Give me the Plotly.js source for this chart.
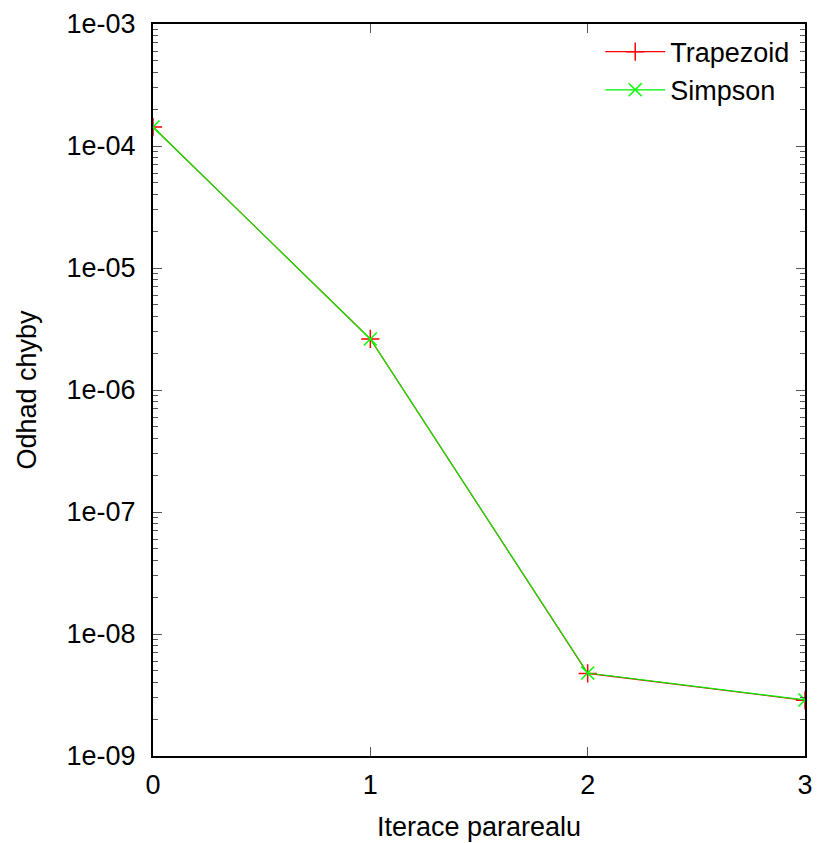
<!DOCTYPE html>
<html>
<head>
<meta charset="utf-8">
<script src="https://cdn.plot.ly/plotly-3.0.1.min.js"></script>
<style>
  html, body { margin: 0; padding: 0; background: #fff; }
  #chart { width: 818px; height: 843px; }
</style>
</head>
<body>
<div id="chart"></div>
<script>
// Data
var iterations = [0, 1, 2, 3];
var trapezoid = [1.43e-4, 2.62e-6, 4.75e-9, 2.86e-9];
var simpson   = [1.43e-4, 2.62e-6, 4.79e-9, 2.88e-9];
var seriesNames = ['Trapezoid', 'Simpson'];
var yTickVals = [1e-9, 1e-8, 1e-7, 1e-6, 1e-5, 1e-4, 1e-3];
var yTickText = ['1e-09', '1e-08', '1e-07', '1e-06', '1e-05', '1e-04', '1e-03'];
var xTickVals = [0, 1, 2, 3];
var xTickText = ['0', '1', '2', '3'];

var minorVals = [];
for (var e = -9; e < -3; e++) {
  for (var m = 2; m <= 9; m++) minorVals.push(m * Math.pow(10, e));
}

var font = {family: '"Liberation Sans", Arial, sans-serif', size: 27, color: '#000'};

var traces = [
  {
    x: iterations, y: trapezoid, name: seriesNames[0], type: 'scatter', mode: 'lines+markers',
    line: {color: '#ff0000', width: 1.2},
    marker: {symbol: 'cross-thin', size: 13, line: {color: '#ff0000', width: 1.5}}
  },
  {
    x: iterations, y: simpson, name: seriesNames[1], type: 'scatter', mode: 'lines+markers',
    line: {color: '#00ee00', width: 1.2},
    marker: {symbol: 'x-thin', size: 13, line: {color: '#00ff00', width: 1.5}}
  }
];

var layout = {
  width: 818, height: 843,
  margin: {l: 153, r: 13, t: 24, b: 87},
  paper_bgcolor: '#fff', plot_bgcolor: '#fff',
  font: font,
  showlegend: true,
  legend: {
    x: 0.985, y: 0.995, xanchor: 'right', yanchor: 'top',
    bgcolor: 'rgba(0,0,0,0)', font: font, itemwidth: 60, tracegroupgap: 0
  },
  xaxis: {
    range: [0, 3], tickmode: 'array', tickvals: xTickVals, ticktext: xTickText,
    ticks: 'inside', ticklen: 9, tickwidth: 1, tickcolor: '#555',
    showline: true, linecolor: '#000', linewidth: 2, mirror: 'allticks',
    showgrid: false, zeroline: false, ticklabelstandoff: 4,
    title: {text: 'Iterace pararealu', font: font, standoff: 18}
  },
  yaxis: {
    type: 'log', range: [-9, -3], tickmode: 'array', tickvals: yTickVals, ticktext: yTickText,
    ticks: 'inside', ticklen: 9, tickwidth: 1, tickcolor: '#555',
    showline: true, linecolor: '#000', linewidth: 2, mirror: 'allticks',
    showgrid: false, zeroline: false, ticklabelstandoff: 10,
    minor: {tickmode: 'array', tickvals: minorVals, ticks: 'inside', ticklen: 5, tickwidth: 1, tickcolor: '#555', showgrid: false},
    title: {text: 'Odhad chyby', font: font, standoff: 22}
  }
};

Plotly.newPlot('chart', traces, layout, {displayModeBar: false, staticPlot: true});
</script>
</body>
</html>
